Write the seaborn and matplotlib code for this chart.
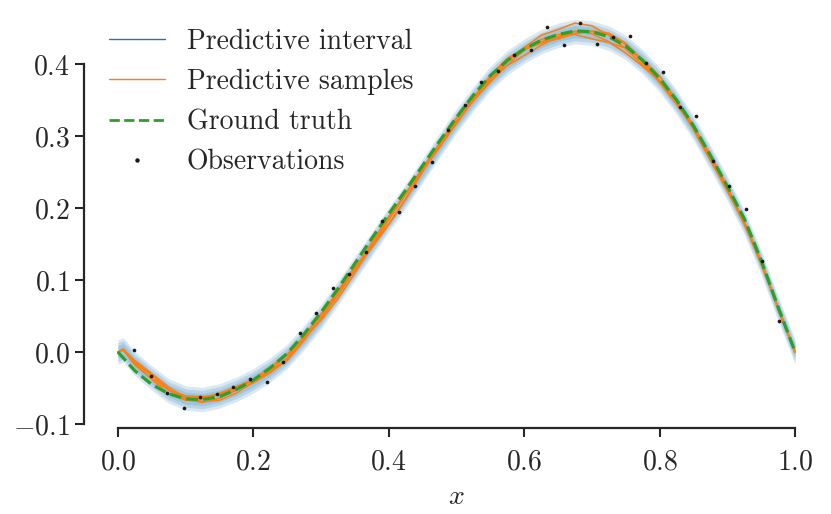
import numpy as np
import pandas as pd
import matplotlib
matplotlib.use("Agg")
import matplotlib.pyplot as plt
from matplotlib.lines import Line2D
import seaborn as sns

# observations (noisy points)
obs_x = np.linspace(0, 1, 42)[1:-1]
obs_y = [0.003, -0.034, -0.057, -0.078, -0.063, -0.058, -0.048, -0.038, -0.042, -0.014,
         0.026, 0.054, 0.089, 0.109, 0.139, 0.182, 0.195, 0.231, 0.264, 0.308,
         0.343, 0.375, 0.391, 0.412, 0.419, 0.451, 0.427, 0.457, 0.428, 0.437,
         0.439, 0.401, 0.389, 0.340, 0.328, 0.266, 0.231, 0.199, 0.126, 0.043]

# ground truth curve
gt_x = np.linspace(0, 1, 41)
gt_y = [0.000, -0.026, -0.045, -0.058, -0.065, -0.066, -0.062, -0.052, -0.039, -0.022,
        -0.002, 0.025, 0.055, 0.088, 0.123, 0.158, 0.192, 0.225, 0.259, 0.293,
        0.326, 0.357, 0.384, 0.405, 0.421, 0.433, 0.441, 0.446, 0.445, 0.438,
        0.425, 0.405, 0.380, 0.350, 0.314, 0.273, 0.230, 0.185, 0.127, 0.062, 0.000]

# predictive mean + samples
samp_x = np.concatenate([[0.0, 0.008], np.linspace(0.025, 1, 40)])
pred_mean = [0.000, 0.003, -0.016, -0.036, -0.054, -0.064, -0.066, -0.061, -0.052, -0.040,
             -0.025, -0.006, 0.020, 0.049, 0.082, 0.116, 0.150, 0.184, 0.217, 0.252,
             0.287, 0.321, 0.352, 0.380, 0.402, 0.418, 0.431, 0.440, 0.445, 0.443,
             0.436, 0.423, 0.403, 0.378, 0.347, 0.311, 0.270, 0.227, 0.180, 0.124, 0.060, 0.000]
pred_half = 0.017

sample_1 = [0, 0.003, -0.014, -0.033, -0.052, -0.066, -0.070, -0.064, -0.053, -0.038,
            -0.021, -0.003, 0.021, 0.047, 0.079, 0.115, 0.152, 0.188, 0.220, 0.252,
            0.284, 0.319, 0.353, 0.384, 0.408, 0.422, 0.431, 0.437, 0.443, 0.445,
            0.441, 0.427, 0.403, 0.374, 0.344, 0.311, 0.273, 0.229, 0.178, 0.123, 0.061, 0]
sample_2 = [0, 0.004, -0.012, -0.030, -0.049, -0.063, -0.069, -0.067, -0.057, -0.042,
            -0.025, -0.004, 0.019, 0.044, 0.074, 0.110, 0.147, 0.184, 0.219, 0.256,
            0.289, 0.320, 0.349, 0.378, 0.403, 0.423, 0.440, 0.448, 0.457, 0.453,
            0.440, 0.421, 0.399, 0.376, 0.349, 0.315, 0.272, 0.226, 0.177, 0.124, 0.062, 0]
sample_3 = [0, 0.003, -0.016, -0.038, -0.058, -0.067, -0.066, -0.058, -0.048, -0.038,
            -0.026, -0.010, 0.017, 0.049, 0.085, 0.118, 0.148, 0.178, 0.213, 0.252,
            0.290, 0.325, 0.354, 0.379, 0.398, 0.412, 0.426, 0.438, 0.446, 0.442,
            0.431, 0.415, 0.397, 0.376, 0.348, 0.309, 0.266, 0.225, 0.181, 0.127, 0.060, 0]
sample_4 = [0, 0.004, -0.013, -0.032, -0.053, -0.065, -0.064, -0.057, -0.049, -0.040,
            -0.028, -0.012, 0.016, 0.048, 0.083, 0.114, 0.145, 0.177, 0.212, 0.250,
            0.288, 0.321, 0.349, 0.375, 0.399, 0.419, 0.434, 0.441, 0.441, 0.435,
            0.430, 0.422, 0.406, 0.383, 0.350, 0.310, 0.267, 0.223, 0.179, 0.126, 0.058, 0]
sample_5 = [0, 0.003, -0.018, -0.037, -0.053, -0.061, -0.062, -0.059, -0.052, -0.043,
            -0.029, -0.008, 0.022, 0.053, 0.084, 0.115, 0.148, 0.185, 0.220, 0.254,
            0.285, 0.317, 0.350, 0.382, 0.406, 0.420, 0.429, 0.435, 0.442, 0.446,
            0.443, 0.429, 0.405, 0.377, 0.345, 0.312, 0.274, 0.230, 0.180, 0.121, 0.061, 0]
samples = [sample_1, sample_2, sample_3, sample_4, sample_5]

BLUE, ORANGE, GREEN = "#1f77b4", "#ff7f0e", "#2ca02c"

# long-form table for seaborn
df_samp = pd.concat(
    [pd.DataFrame({"x": samp_x, "y": s, "sample": i}) for i, s in enumerate(samples)],
    ignore_index=True,
)
df_gt = pd.DataFrame({"x": gt_x, "y": gt_y})
df_obs = pd.DataFrame({"x": obs_x, "y": obs_y})

sns.set_theme(style="ticks")
plt.rcParams["font.family"] = ["cmr10", "DejaVu Serif"]
plt.rcParams["mathtext.fontset"] = "cm"
plt.rcParams["axes.formatter.use_mathtext"] = True
plt.rcParams["axes.unicode_minus"] = True

fig = plt.figure(figsize=(8.31, 5.14), dpi=100)
ax = fig.add_axes([84 / 831, 86.4 / 514, 745 / 831, 424 / 514])

mean = np.array(pred_mean)
# soft-edged interval band
for w in (1.0, 0.75, 0.5):
    ax.fill_between(samp_x, mean - pred_half * w, mean + pred_half * w,
                    color=BLUE, alpha=0.17, linewidth=0)

sns.lineplot(data=df_samp, x="x", y="y", units="sample", estimator=None,
             color=ORANGE, linewidth=1.1, legend=False, ax=ax)
sns.lineplot(data=df_gt, x="x", y="y", color=GREEN, linewidth=2.3,
             linestyle="--", legend=False, ax=ax)
sns.scatterplot(data=df_obs, x="x", y="y", color="k", s=7, linewidth=0,
                legend=False, ax=ax, zorder=5)

ax.set_xlim(-0.05, 1.05)
ax.set_ylim(-0.105, 0.484)
ax.set_xticks([0.0, 0.2, 0.4, 0.6, 0.8, 1.0])
ax.set_yticks([-0.1, 0.0, 0.1, 0.2, 0.3, 0.4])
ax.set_xlabel("$x$", fontsize=20, labelpad=6)
ax.set_ylabel("")
ax.tick_params(labelsize=20, length=6.5, width=1.5)
ax.tick_params(axis="x", pad=9)
for sp in ax.spines.values():
    sp.set_linewidth(1.6)
sns.despine(ax=ax, trim=True)

handles = [
    Line2D([], [], color=BLUE, linewidth=1.0),
    Line2D([], [], color=ORANGE, linewidth=1.0),
    Line2D([], [], color=GREEN, linewidth=2.0, linestyle="--"),
    Line2D([], [], color="k", marker="o", markersize=2.2, linestyle="none"),
]
labels = ["Predictive interval", "Predictive samples", "Ground truth", "Observations"]
ax.legend(handles, labels, loc="upper left", frameon=False, fontsize=20)

fig.savefig("out.png", dpi=100)
